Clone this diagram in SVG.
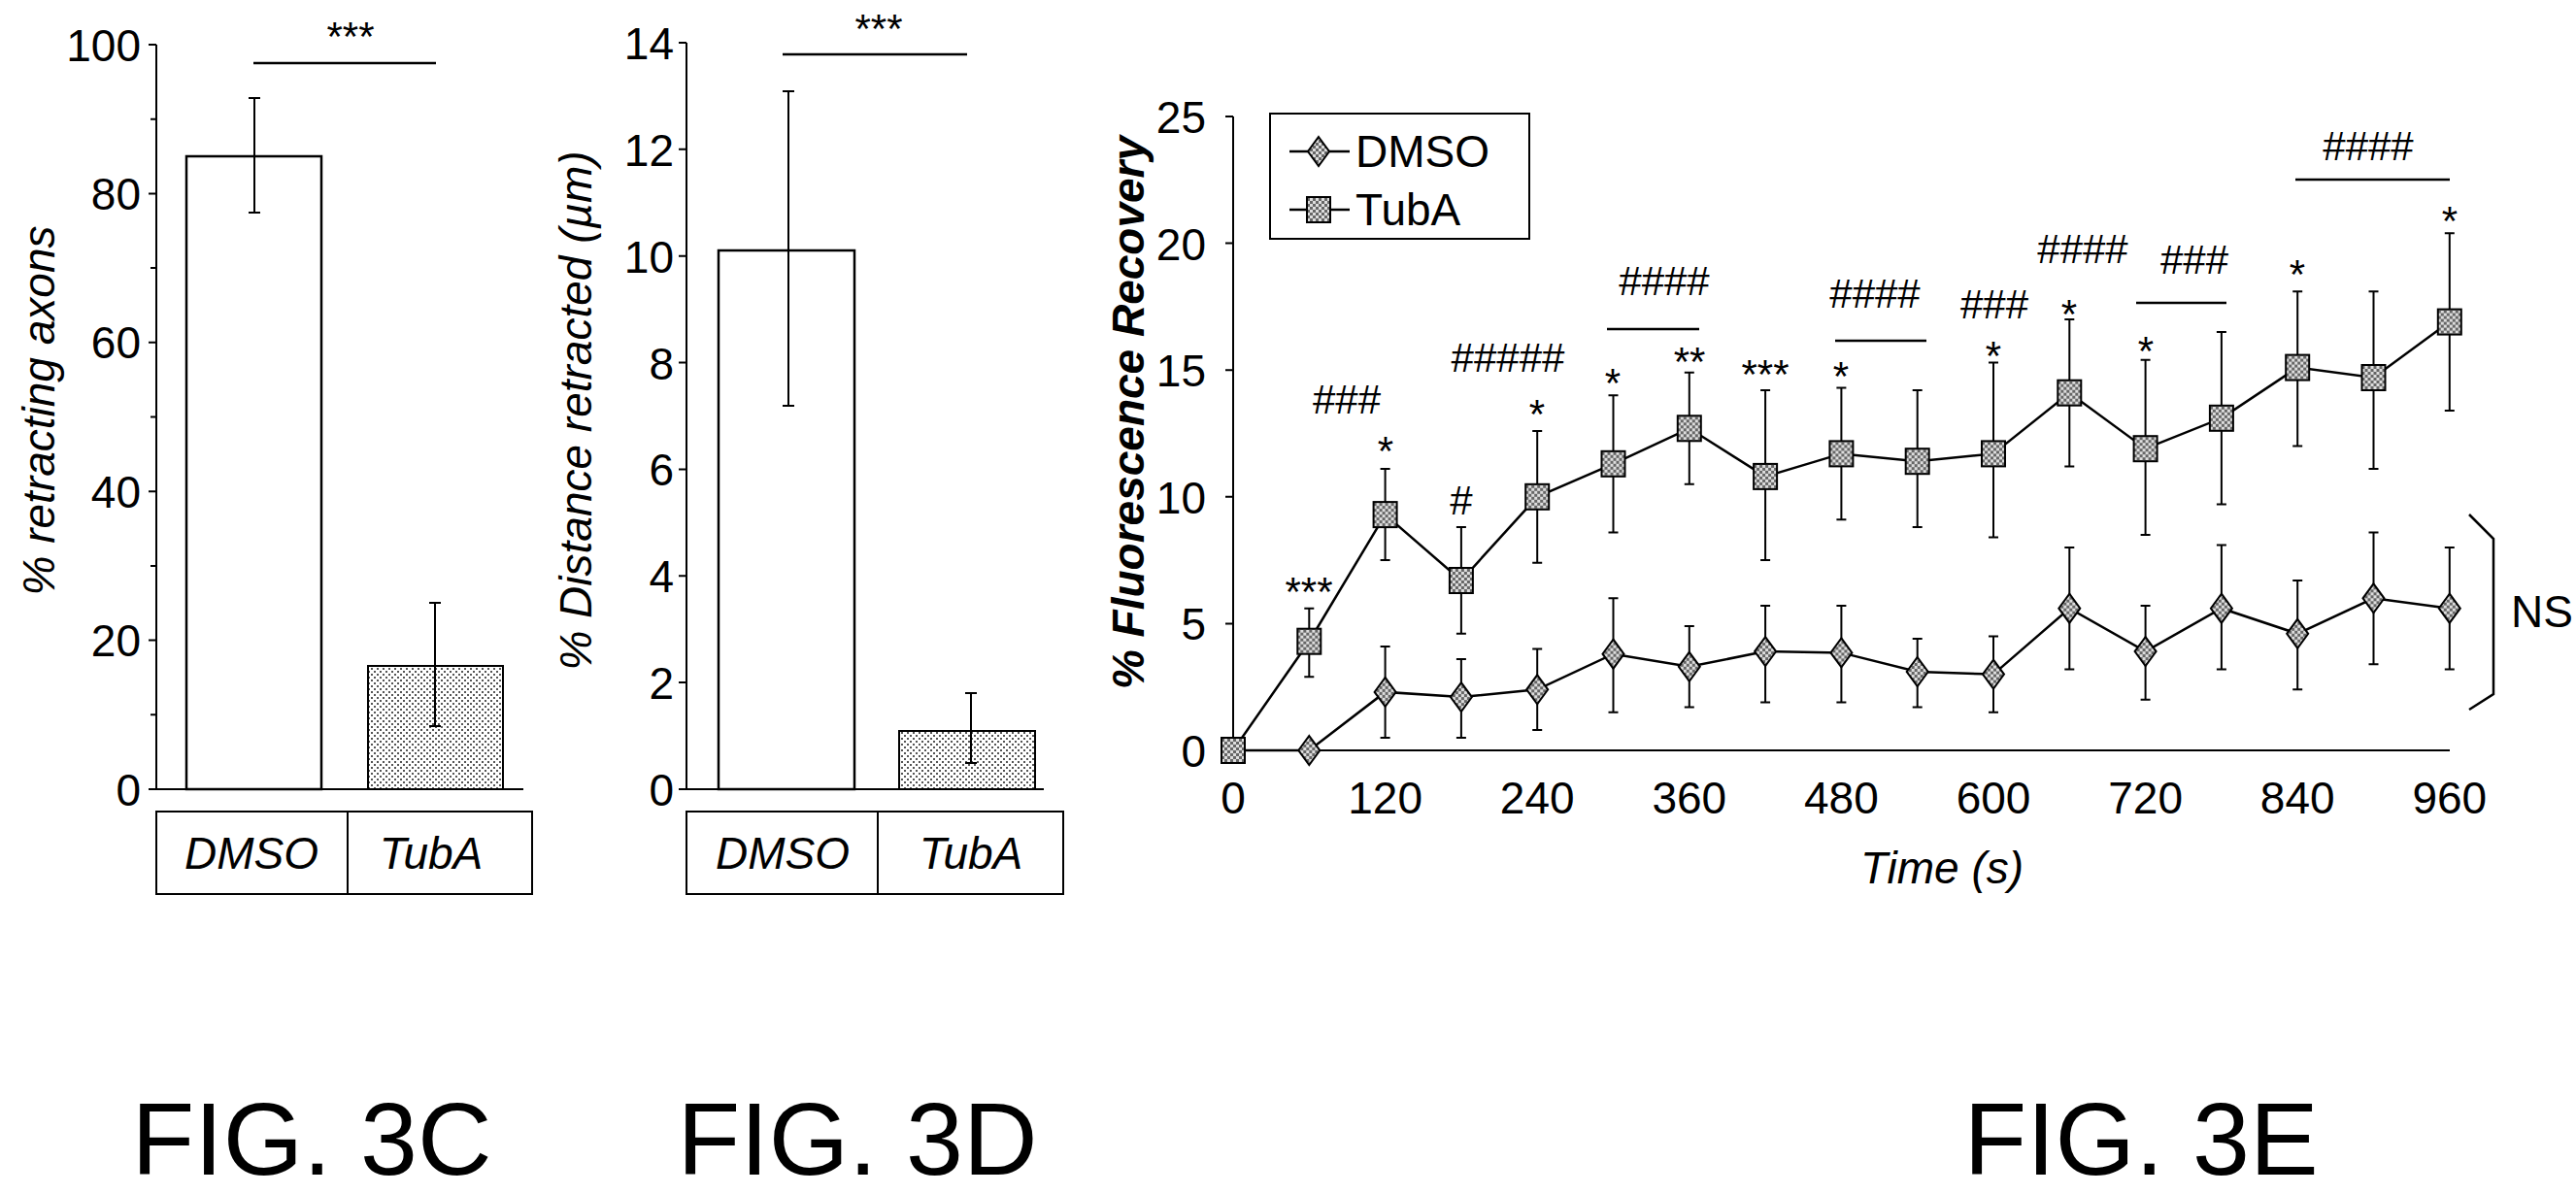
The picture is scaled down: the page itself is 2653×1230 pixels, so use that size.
<svg xmlns="http://www.w3.org/2000/svg" xmlns:xlink="http://www.w3.org/1999/xlink" width="2653" height="1230" viewBox="0 0 2653 1230">
<style>
text{font-family:"Liberation Sans",Arial,sans-serif;fill:#000}
.tk{font-size:46px}
.tr{text-anchor:end}
.tm{text-anchor:middle}
.lab{font-size:46px;font-style:italic}
.st{font-size:42px;text-anchor:middle}
.fig{font-size:106px;text-anchor:middle}
.ax{stroke:#000;stroke-width:2;fill:none}
.ln{stroke:#000;stroke-width:2.5;fill:none}
.eb{stroke:#000;stroke-width:2;fill:none}
</style>
<defs>
<pattern id="dots" width="6" height="6" patternUnits="userSpaceOnUse"><rect width="6" height="6" fill="#fff"/><rect x="1" y="1" width="2" height="2" fill="#555"/><rect x="4" y="4" width="2" height="2" fill="#555"/></pattern>
<pattern id="chk" width="6" height="6" patternUnits="userSpaceOnUse"><rect width="6" height="6" fill="#ddd"/><rect width="3" height="3" fill="#666"/><rect x="3" y="3" width="3" height="3" fill="#666"/></pattern>
<rect id="sq" x="-12" y="-13" width="24" height="26" fill="url(#chk)" stroke="#000" stroke-width="2"/>
<polygon id="dm" points="0,-15 11,0 0,15 -11,0" fill="url(#chk)" stroke="#000" stroke-width="2"/>
</defs>
<rect width="2653" height="1230" fill="#fff"/>

<g id="fig3c">
<path class="ax" d="M161 46 V813 H539 M153 46 H161 M155 122.7 H161 M153 199.4 H161 M155 276.1 H161 M153 352.8 H161 M155 429.5 H161 M153 506.2 H161 M155 582.9 H161 M153 659.6 H161 M155 736.3 H161 M153 813 H161"/>
<g class="tk tr"><text x="145" y="63">100</text><text x="145" y="216">80</text><text x="145" y="369">60</text><text x="145" y="523">40</text><text x="145" y="676">20</text><text x="145" y="830">0</text></g>
<rect x="192" y="161" width="139" height="652" fill="#fff" stroke="#000" stroke-width="2.5"/>
<rect x="379" y="686" width="139" height="127" fill="url(#dots)" stroke="#000" stroke-width="2"/>
<path class="eb" d="M256 101 h12 M262 101 V219 M256 219 h12 M442 621 h12 M448 621 V748 M442 748 h12"/>
<path class="ln" d="M261 65 H449"/>
<text class="st" x="361" y="52">***</text>
<rect x="161" y="836" width="387" height="85" fill="none" stroke="#000" stroke-width="2"/>
<path class="ax" d="M358 836 V921"/>
<text class="lab tm" x="259" y="895">DMSO</text><text class="lab tm" x="444" y="895">TubA</text>
<text class="lab tm" transform="translate(56 423) rotate(-90)">% retracting axons</text>
<text class="fig" x="321" y="1210">FIG. 3C</text>
</g>

<g id="fig3d">
<path class="ax" d="M707 44 V813 H1075 M699 44 H707 M699 153.8 H707 M699 263.7 H707 M699 373.6 H707 M699 483.4 H707 M699 593.3 H707 M699 703.1 H707 M699 813 H707"/>
<g class="tk tr"><text x="694" y="61">14</text><text x="694" y="171">12</text><text x="694" y="281">10</text><text x="694" y="391">8</text><text x="694" y="500">6</text><text x="694" y="610">4</text><text x="694" y="720">2</text><text x="694" y="830">0</text></g>
<rect x="740" y="258" width="140" height="555" fill="#fff" stroke="#000" stroke-width="2.5"/>
<rect x="926" y="753" width="140" height="60" fill="url(#dots)" stroke="#000" stroke-width="2"/>
<path class="eb" d="M806 94 h12 M812 94 V418 M806 418 h12 M994 714 h12 M1000 714 V786 M994 786 h12"/>
<path class="ln" d="M806 56 H996"/>
<text class="st" x="905" y="44">***</text>
<rect x="707" y="836" width="388" height="85" fill="none" stroke="#000" stroke-width="2"/>
<path class="ax" d="M904 836 V921"/>
<text class="lab tm" x="806" y="895">DMSO</text><text class="lab tm" x="1000" y="895">TubA</text>
<text class="lab tm" transform="translate(609 423) rotate(-90)">% Distance retracted (µm)</text>
<text class="fig" x="883" y="1210">FIG. 3D</text>
</g>

<g id="fig3e-axes">
<path class="ax" d="M1270 120 V773 H2523 M1262 120 H1270 M1262 250.6 H1270 M1262 381.2 H1270 M1262 511.8 H1270 M1262 642.4 H1270 M1262 773 H1270"/>
<g class="tk tr"><text x="1242" y="137">25</text><text x="1242" y="268">20</text><text x="1242" y="398">15</text><text x="1242" y="529">10</text><text x="1242" y="659">5</text><text x="1242" y="790">0</text></g>
<g class="tk tm"><text x="1270" y="838">0</text><text x="1426.6" y="838">120</text><text x="1583.2" y="838">240</text><text x="1739.8" y="838">360</text><text x="1896.4" y="838">480</text><text x="2053" y="838">600</text><text x="2209.6" y="838">720</text><text x="2366.2" y="838">840</text><text x="2522.8" y="838">960</text></g>
<text class="lab tm" x="2000" y="910">Time (s)</text>
<text class="lab tm" font-weight="bold" transform="translate(1178 425) rotate(-90)">% Fluorescence Recovery</text>
<text class="fig" x="2205" y="1210">FIG. 3E</text>
</g>

<g id="connectors">
<path class="eb" d="M1421.6 665.9h10M1426.6 665.9V759.9M1421.6 759.9h10 M1499.9 679h10M1504.9 679V759.9M1499.9 759.9h10 M1578.2 668.5h10M1583.2 668.5V752.1M1578.2 752.1h10 M1656.5 616.3h10M1661.5 616.3V733.8M1656.5 733.8h10 M1734.8 645h10M1739.8 645V728.6M1734.8 728.6h10 M1813.1 624.1h10M1818.1 624.1V723.4M1813.1 723.4h10 M1891.4 624.1h10M1896.4 624.1V723.4M1891.4 723.4h10 M1969.7 658.1h10M1974.7 658.1V728.6M1969.7 728.6h10 M2048 655.5h10M2053 655.5V733.8M2048 733.8h10 M2126.3 564h10M2131.3 564V689.4M2126.3 689.4h10 M2204.6 624.1h10M2209.6 624.1V720.8M2204.6 720.8h10 M2282.9 561.4h10M2287.9 561.4V689.4M2282.9 689.4h10 M2361.2 598h10M2366.2 598V710.3M2361.2 710.3h10 M2439.5 548.4h10M2444.5 548.4V684.2M2439.5 684.2h10 M2517.8 564h10M2522.8 564V689.4M2517.8 689.4h10"/>
<path class="eb" d="M1343.3 626.7h10M1348.3 626.7V697.3M1343.3 697.3h10 M1421.6 483.1h10M1426.6 483.1V577.1M1421.6 577.1h10 M1499.9 543.1h10M1504.9 543.1V652.8M1499.9 652.8h10 M1578.2 443.9h10M1583.2 443.9V579.7M1578.2 579.7h10 M1656.5 407.3h10M1661.5 407.3V548.4M1656.5 548.4h10 M1734.8 383.8h10M1739.8 383.8V498.7M1734.8 498.7h10 M1813.1 402.1h10M1818.1 402.1V577.1M1813.1 577.1h10 M1891.4 399.5h10M1896.4 399.5V535.3M1891.4 535.3h10 M1969.7 402.1h10M1974.7 402.1V543.1M1969.7 543.1h10 M2048 373.4h10M2053 373.4V553.6M2048 553.6h10 M2126.3 329h10M2131.3 329V480.5M2126.3 480.5h10 M2204.6 370.8h10M2209.6 370.8V551M2204.6 551h10 M2282.9 342h10M2287.9 342V519.6M2282.9 519.6h10 M2361.2 300.2h10M2366.2 300.2V459.6M2361.2 459.6h10 M2439.5 300.2h10M2444.5 300.2V483.1M2439.5 483.1h10 M2517.8 240.2h10M2522.8 240.2V423M2517.8 423h10"/>
<polyline class="ln" points="1270,773 1348.3,773 1426.6,712.9 1504.9,718.1 1583.2,710.3 1661.5,673.7 1739.8,686.8 1818.1,671.1 1896.4,672.4 1974.7,692 2053,694.6 2131.3,626.7 2209.6,671.1 2287.9,626.7 2366.2,652.8 2444.5,616.3 2522.8,626.7"/>
<polyline class="ln" points="1270,773 1348.3,660.7 1426.6,530.1 1504.9,598 1583.2,511.8 1661.5,477.8 1739.8,441.3 1818.1,490.9 1896.4,467.4 1974.7,475.2 2053,467.4 2131.3,404.7 2209.6,462.2 2287.9,430.8 2366.2,378.6 2444.5,389 2522.8,331.6"/>
<path class="ln" d="M1655 339 H1750 M1890 351 H1984 M2200 312 H2293 M2364 185 H2523"/>
<path class="ln" d="M2543 530 L2568 555 V715 L2543 731"/>
</g>

<g id="dmso-markers">
<use xlink:href="#dm" x="1348.3" y="773"/><use xlink:href="#dm" x="1426.6" y="712.9"/><use xlink:href="#dm" x="1504.9" y="718.1"/><use xlink:href="#dm" x="1583.2" y="710.3"/><use xlink:href="#dm" x="1661.5" y="673.7"/><use xlink:href="#dm" x="1739.8" y="686.8"/><use xlink:href="#dm" x="1818.1" y="671.1"/><use xlink:href="#dm" x="1896.4" y="672.4"/><use xlink:href="#dm" x="1974.7" y="692"/><use xlink:href="#dm" x="2053" y="694.6"/><use xlink:href="#dm" x="2131.3" y="626.7"/><use xlink:href="#dm" x="2209.6" y="671.1"/><use xlink:href="#dm" x="2287.9" y="626.7"/><use xlink:href="#dm" x="2366.2" y="652.8"/><use xlink:href="#dm" x="2444.5" y="616.3"/><use xlink:href="#dm" x="2522.8" y="626.7"/>
</g>
<g id="tuba-markers">
<use xlink:href="#sq" x="1270" y="773"/><use xlink:href="#sq" x="1348.3" y="660.7"/><use xlink:href="#sq" x="1426.6" y="530.1"/><use xlink:href="#sq" x="1504.9" y="598"/><use xlink:href="#sq" x="1583.2" y="511.8"/><use xlink:href="#sq" x="1661.5" y="477.8"/><use xlink:href="#sq" x="1739.8" y="441.3"/><use xlink:href="#sq" x="1818.1" y="490.9"/><use xlink:href="#sq" x="1896.4" y="467.4"/><use xlink:href="#sq" x="1974.7" y="475.2"/><use xlink:href="#sq" x="2053" y="467.4"/><use xlink:href="#sq" x="2131.3" y="404.7"/><use xlink:href="#sq" x="2209.6" y="462.2"/><use xlink:href="#sq" x="2287.9" y="430.8"/><use xlink:href="#sq" x="2366.2" y="378.6"/><use xlink:href="#sq" x="2444.5" y="389"/><use xlink:href="#sq" x="2522.8" y="331.6"/>
</g>

<g id="annotations">
<g class="st"><text x="1348" y="624">***</text><text x="1427" y="479">*</text><text x="1583" y="441">*</text><text x="1661" y="409">*</text><text x="1740" y="387">**</text><text x="1818" y="400">***</text><text x="1896" y="402">*</text><text x="2053" y="381">*</text><text x="2131" y="338">*</text><text x="2210" y="376">*</text><text x="2366" y="297">*</text><text x="2523" y="242">*</text></g>
<g class="tk tm" style="font-size:42px"><text x="1387" y="426">###</text><text x="1505" y="530">#</text><text x="1553" y="383">#####</text><text x="1714" y="304">####</text><text x="1931" y="317">####</text><text x="2054" y="328">###</text><text x="2145" y="271">####</text><text x="2260" y="282">###</text><text x="2439" y="165">####</text></g>
<text class="tk tm" x="2618" y="646">NS</text>
</g>

<g id="legend">
<rect x="1308" y="117" width="267" height="129" fill="#fff" stroke="#000" stroke-width="2"/>
<path class="ln" d="M1328 156 H1390 M1328 216 H1390"/>
<use xlink:href="#dm" x="1358" y="156"/><use xlink:href="#sq" x="1358" y="216"/>
<text class="tk" x="1396" y="172">DMSO</text><text class="tk" x="1396" y="232">TubA</text>
</g>
</svg>
